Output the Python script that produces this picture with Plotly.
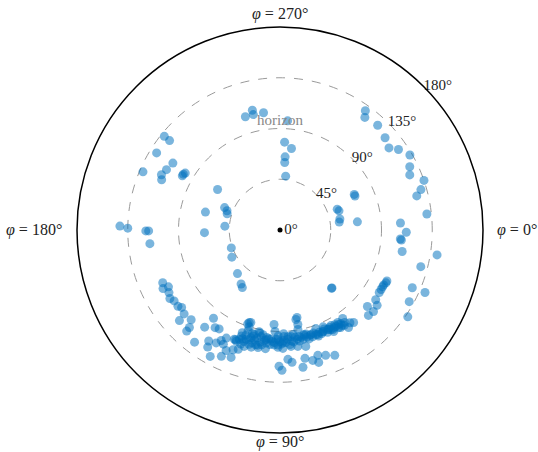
import math
import plotly.graph_objects as go

# Source directions: zenith angle (deg from the pole) and azimuth phi (deg)
scatter_zenith = [
    105, 109, 105, 105, 97, 78, 73, 65, 60, 48,
    132, 126, 129, 112, 132, 114, 116, 114, 99, 98, 99,
    66, 53, 50, 49, 68, 49, 67, 142, 135, 119, 116.5, 116,
    130, 125, 127, 124, 121, 127, 133, 128, 125, 135, 130, 125, 131,
    73, 73, 54, 55, 54, 53, 69, 107, 112, 107, 108, 110, 129, 141,
    105, 104, 104, 104, 105, 109, 103, 110, 109, 105, 104,
    128, 140, 131, 137, 69, 69,
    54, 59, 61, 46, 49,
    114, 116, 111, 113, 115, 113, 113, 111, 113, 120, 112, 118, 122, 125,
    109, 98, 104, 103, 117, 122, 128, 115, 111, 113, 107, 117, 123.5, 121, 114, 112, 105,
    104, 105, 103.7, 104.4, 105.7, 114.9, 117.8, 120.8, 124.4, 115.9, 119.2,
    116.1, 122.3, 118.3, 121.3, 123.4,
]
scatter_azimuth = [
    253, 257, 257, 262, 274, 273, 278, 274, 274, 276,
    219, 219, 212, 212, 203, 208, 205, 203, 210, 211, 209,
    213, 202, 200, 197, 193.5, 184, 178, 181.4, 180.7, 179.6, 179.6, 174,
    305.6, 307, 313, 318.7, 323, 325.8, 330, 334, 337, 341, 344, 346, 353.8,
    334.4, 335.6, 340, 342, 349.6, 352.4, 354, 356.7, 1, 4.3, 4.7, 10, 14.6, 9,
    25.5, 27.9, 30.5, 32.2, 36.1, 37.8, 41.2, 41.1, 44, 26.5, 29,
    23.6, 23.3, 29, 34.2, 48.1, 48.5,
    134.3, 125.8, 123.2, 159.8, 150.6,
    155.8, 153.4, 153, 150.6, 148.1, 146.2, 143.2, 141.8, 138.8, 138, 134.7, 132.9, 132.7, 127.3,
    127.8, 127, 123.6, 121.6, 122.7, 121.7, 118.9, 119.5, 118, 116.4, 116.4, 114.1, 114.9, 111, 111.4, 109.3, 112.7,
    91, 88.6, 84.6, 81.3, 77.5, 86.5, 84.8, 90.4, 89.2, 79, 75.9,
    73.2, 73.7, 70, 66.4, 80.5,
]

# Dense band of sources just below the horizon
band_zenith = [
    86.5, 90, 93.5, 97, 103.5, 106, 101.5, 108, 105, 107, 106, 95.4, 92, 94, 98, 97,
    84, 90, 97, 99.7, 94.4, 94.6, 93.3, 80.6, 85.3, 89.6, 95.9, 95, 96.6, 98.5, 97.6,
    97.8, 99, 98.8, 98.6, 96.2, 101.8, 101.8, 105.7, 104.8, 96.7, 79, 86, 88,
    100, 102, 98, 104, 101, 99, 103, 97, 100, 104, 98, 101, 96, 103, 99, 101,
    97, 102, 99, 100, 97, 102, 99, 101, 98, 100, 97, 102, 99, 100, 96, 98,
    100, 97, 99, 96, 98, 100, 97, 99, 96, 98, 100, 97, 99, 98, 96, 100,
    98, 97, 100, 99, 97, 101, 99, 102, 100, 103, 95, 93, 96, 94, 92, 95,
    105, 107, 104, 106, 102, 95, 93, 94, 96, 101,
]
band_azimuth = [
    108.4, 107.7, 107.6, 110.2, 110.4, 111.4, 107.2, 107.1, 105.1, 103.8, 100.6, 103.9, 101.6, 99.2, 97.3, 94.7,
    93.6, 92.8, 91, 88.5, 87.9, 85.7, 82.9, 79.9, 79.3, 79.8, 79.9, 77.1, 73.5, 70.1, 67.1,
    64.4, 63, 60, 58.2, 54.7, 58.1, 62.1, 54.9, 51.5, 58, 79, 107.5, 109,
    110, 109, 108, 108, 106, 105, 104, 104, 103, 102, 102, 100, 100, 99, 98, 97,
    96, 95, 94, 93, 92, 91, 90, 89, 88, 87, 86, 85, 84, 83, 82, 81,
    80, 79, 78, 77, 76, 75, 74, 73, 72, 71, 70, 69, 68, 67, 66, 65,
    64, 63, 62, 61, 60, 59, 57, 56, 55, 53, 105, 101, 97, 91, 88, 84,
    112, 109, 101, 97, 93, 76, 70, 66, 62, 57,
]

ring_values = [45, 90, 135, 180]
ring_labels = ["45°", "90°", "135°", "180°"]
phi_ticks = [0, 90, 180, 270]
phi_labels = ["<i>φ</i> = 0°", "<i>φ</i> = 90°", "<i>φ</i> = 180°", "<i>φ</i> = 270°"]

serif = "Liberation Serif"
blue = "#0072BD"
ink = "#222222"

fig = go.Figure()

fig.add_trace(go.Scatterpolar(
    r=scatter_zenith + band_zenith,
    theta=scatter_azimuth + band_azimuth,
    mode="markers",
    marker=dict(color=blue, size=9, opacity=0.52, line=dict(width=0)),
    hoverinfo="skip",
))

# Zenith marker at the pole
fig.add_trace(go.Scatterpolar(
    r=[0], theta=[0], mode="markers+text",
    marker=dict(color="black", size=5),
    text=["0°"], textposition="middle right",
    textfont=dict(family=serif, size=15, color=ink),
))

# Zenith-angle ring labels
fig.add_trace(go.Scatterpolar(
    r=ring_values, theta=[315] * len(ring_values), mode="text",
    text=ring_labels, textposition="middle right",
    textfont=dict(family=serif, size=15, color=ink),
    cliponaxis=False,
))

# Horizon label on the 90° ring
fig.add_trace(go.Scatterpolar(
    r=[90], theta=[270], mode="text",
    text=["horizon"], textposition="top center",
    textfont=dict(family=serif, size=15, color="#888"),
))

# Azimuth labels just outside the outer ring (clockwise from the right)
anchors = {0: ("left", "middle", 12, 0), 90: ("center", "top", 0, 2),
           180: ("right", "middle", -13, 0), 270: ("center", "bottom", 0, 2)}
annotations = []
for phi, label in zip(phi_ticks, phi_labels):
    xa, ya, xs, ys = anchors[phi]
    annotations.append(dict(
        x=0.5 + 0.5 * math.cos(math.radians(phi)),
        y=0.5 - 0.5 * math.sin(math.radians(phi)),
        xref="paper", yref="paper", text=label, showarrow=False,
        xanchor=xa, yanchor=ya, xshift=xs, yshift=ys,
        font=dict(family=serif, size=16, color=ink),
    ))

fig.update_layout(
    width=538, height=452,
    margin=dict(l=77, r=55, t=27, b=19),
    paper_bgcolor="white",
    showlegend=False,
    annotations=annotations,
    polar=dict(
        bgcolor="white",
        radialaxis=dict(
            range=[0, 180], tickvals=[45, 90, 135],
            showticklabels=False, ticks="", showline=False,
            showgrid=True, gridcolor="#9a9a9a", gridwidth=1, griddash="dash",
        ),
        angularaxis=dict(
            rotation=0, direction="clockwise",
            tickvals=phi_ticks, showticklabels=False, ticks="",
            showgrid=False, showline=True, linecolor="black", linewidth=1.5,
        ),
    ),
)

fig.write_html("out.html")
